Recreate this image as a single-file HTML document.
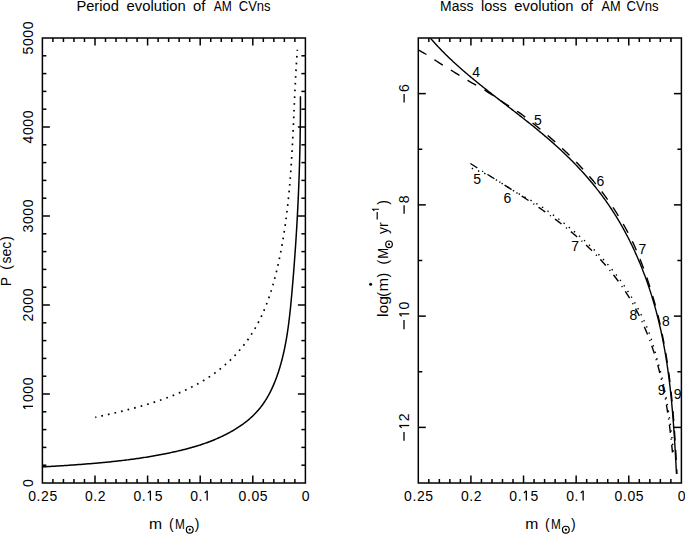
<!DOCTYPE html>
<html><head><meta charset="utf-8"><style>
html,body{margin:0;padding:0;background:#fff;}
svg{display:block;}
text{font-family:"Liberation Sans",sans-serif;fill:#000;}
</style></head><body>
<svg width="685" height="534" viewBox="0 0 685 534">
<rect width="685" height="534" fill="#fff"/>
<g stroke="#000" fill="none">
<rect x="42.4" y="38.0" width="263.00" height="445.00" fill="none" stroke="#000" stroke-width="1.5"/>
<line x1="294.88" y1="483.00" x2="294.88" y2="479.00" stroke-width="1.5"/>
<line x1="294.88" y1="38.00" x2="294.88" y2="42.00" stroke-width="1.5"/>
<line x1="284.36" y1="483.00" x2="284.36" y2="479.00" stroke-width="1.5"/>
<line x1="284.36" y1="38.00" x2="284.36" y2="42.00" stroke-width="1.5"/>
<line x1="273.84" y1="483.00" x2="273.84" y2="479.00" stroke-width="1.5"/>
<line x1="273.84" y1="38.00" x2="273.84" y2="42.00" stroke-width="1.5"/>
<line x1="263.32" y1="483.00" x2="263.32" y2="479.00" stroke-width="1.5"/>
<line x1="263.32" y1="38.00" x2="263.32" y2="42.00" stroke-width="1.5"/>
<line x1="252.80" y1="483.00" x2="252.80" y2="475.50" stroke-width="1.5"/>
<line x1="252.80" y1="38.00" x2="252.80" y2="45.50" stroke-width="1.5"/>
<line x1="242.28" y1="483.00" x2="242.28" y2="479.00" stroke-width="1.5"/>
<line x1="242.28" y1="38.00" x2="242.28" y2="42.00" stroke-width="1.5"/>
<line x1="231.76" y1="483.00" x2="231.76" y2="479.00" stroke-width="1.5"/>
<line x1="231.76" y1="38.00" x2="231.76" y2="42.00" stroke-width="1.5"/>
<line x1="221.24" y1="483.00" x2="221.24" y2="479.00" stroke-width="1.5"/>
<line x1="221.24" y1="38.00" x2="221.24" y2="42.00" stroke-width="1.5"/>
<line x1="210.72" y1="483.00" x2="210.72" y2="479.00" stroke-width="1.5"/>
<line x1="210.72" y1="38.00" x2="210.72" y2="42.00" stroke-width="1.5"/>
<line x1="200.20" y1="483.00" x2="200.20" y2="475.50" stroke-width="1.5"/>
<line x1="200.20" y1="38.00" x2="200.20" y2="45.50" stroke-width="1.5"/>
<line x1="189.68" y1="483.00" x2="189.68" y2="479.00" stroke-width="1.5"/>
<line x1="189.68" y1="38.00" x2="189.68" y2="42.00" stroke-width="1.5"/>
<line x1="179.16" y1="483.00" x2="179.16" y2="479.00" stroke-width="1.5"/>
<line x1="179.16" y1="38.00" x2="179.16" y2="42.00" stroke-width="1.5"/>
<line x1="168.64" y1="483.00" x2="168.64" y2="479.00" stroke-width="1.5"/>
<line x1="168.64" y1="38.00" x2="168.64" y2="42.00" stroke-width="1.5"/>
<line x1="158.12" y1="483.00" x2="158.12" y2="479.00" stroke-width="1.5"/>
<line x1="158.12" y1="38.00" x2="158.12" y2="42.00" stroke-width="1.5"/>
<line x1="147.60" y1="483.00" x2="147.60" y2="475.50" stroke-width="1.5"/>
<line x1="147.60" y1="38.00" x2="147.60" y2="45.50" stroke-width="1.5"/>
<line x1="137.08" y1="483.00" x2="137.08" y2="479.00" stroke-width="1.5"/>
<line x1="137.08" y1="38.00" x2="137.08" y2="42.00" stroke-width="1.5"/>
<line x1="126.56" y1="483.00" x2="126.56" y2="479.00" stroke-width="1.5"/>
<line x1="126.56" y1="38.00" x2="126.56" y2="42.00" stroke-width="1.5"/>
<line x1="116.04" y1="483.00" x2="116.04" y2="479.00" stroke-width="1.5"/>
<line x1="116.04" y1="38.00" x2="116.04" y2="42.00" stroke-width="1.5"/>
<line x1="105.52" y1="483.00" x2="105.52" y2="479.00" stroke-width="1.5"/>
<line x1="105.52" y1="38.00" x2="105.52" y2="42.00" stroke-width="1.5"/>
<line x1="95.00" y1="483.00" x2="95.00" y2="475.50" stroke-width="1.5"/>
<line x1="95.00" y1="38.00" x2="95.00" y2="45.50" stroke-width="1.5"/>
<line x1="84.48" y1="483.00" x2="84.48" y2="479.00" stroke-width="1.5"/>
<line x1="84.48" y1="38.00" x2="84.48" y2="42.00" stroke-width="1.5"/>
<line x1="73.96" y1="483.00" x2="73.96" y2="479.00" stroke-width="1.5"/>
<line x1="73.96" y1="38.00" x2="73.96" y2="42.00" stroke-width="1.5"/>
<line x1="63.44" y1="483.00" x2="63.44" y2="479.00" stroke-width="1.5"/>
<line x1="63.44" y1="38.00" x2="63.44" y2="42.00" stroke-width="1.5"/>
<line x1="52.92" y1="483.00" x2="52.92" y2="479.00" stroke-width="1.5"/>
<line x1="52.92" y1="38.00" x2="52.92" y2="42.00" stroke-width="1.5"/>
<rect x="418.3" y="38.0" width="263.10" height="445.00" fill="none" stroke="#000" stroke-width="1.5"/>
<line x1="670.88" y1="483.00" x2="670.88" y2="479.00" stroke-width="1.5"/>
<line x1="670.88" y1="38.00" x2="670.88" y2="42.00" stroke-width="1.5"/>
<line x1="660.35" y1="483.00" x2="660.35" y2="479.00" stroke-width="1.5"/>
<line x1="660.35" y1="38.00" x2="660.35" y2="42.00" stroke-width="1.5"/>
<line x1="649.83" y1="483.00" x2="649.83" y2="479.00" stroke-width="1.5"/>
<line x1="649.83" y1="38.00" x2="649.83" y2="42.00" stroke-width="1.5"/>
<line x1="639.30" y1="483.00" x2="639.30" y2="479.00" stroke-width="1.5"/>
<line x1="639.30" y1="38.00" x2="639.30" y2="42.00" stroke-width="1.5"/>
<line x1="628.78" y1="483.00" x2="628.78" y2="475.50" stroke-width="1.5"/>
<line x1="628.78" y1="38.00" x2="628.78" y2="45.50" stroke-width="1.5"/>
<line x1="618.26" y1="483.00" x2="618.26" y2="479.00" stroke-width="1.5"/>
<line x1="618.26" y1="38.00" x2="618.26" y2="42.00" stroke-width="1.5"/>
<line x1="607.73" y1="483.00" x2="607.73" y2="479.00" stroke-width="1.5"/>
<line x1="607.73" y1="38.00" x2="607.73" y2="42.00" stroke-width="1.5"/>
<line x1="597.21" y1="483.00" x2="597.21" y2="479.00" stroke-width="1.5"/>
<line x1="597.21" y1="38.00" x2="597.21" y2="42.00" stroke-width="1.5"/>
<line x1="586.68" y1="483.00" x2="586.68" y2="479.00" stroke-width="1.5"/>
<line x1="586.68" y1="38.00" x2="586.68" y2="42.00" stroke-width="1.5"/>
<line x1="576.16" y1="483.00" x2="576.16" y2="475.50" stroke-width="1.5"/>
<line x1="576.16" y1="38.00" x2="576.16" y2="45.50" stroke-width="1.5"/>
<line x1="565.64" y1="483.00" x2="565.64" y2="479.00" stroke-width="1.5"/>
<line x1="565.64" y1="38.00" x2="565.64" y2="42.00" stroke-width="1.5"/>
<line x1="555.11" y1="483.00" x2="555.11" y2="479.00" stroke-width="1.5"/>
<line x1="555.11" y1="38.00" x2="555.11" y2="42.00" stroke-width="1.5"/>
<line x1="544.59" y1="483.00" x2="544.59" y2="479.00" stroke-width="1.5"/>
<line x1="544.59" y1="38.00" x2="544.59" y2="42.00" stroke-width="1.5"/>
<line x1="534.06" y1="483.00" x2="534.06" y2="479.00" stroke-width="1.5"/>
<line x1="534.06" y1="38.00" x2="534.06" y2="42.00" stroke-width="1.5"/>
<line x1="523.54" y1="483.00" x2="523.54" y2="475.50" stroke-width="1.5"/>
<line x1="523.54" y1="38.00" x2="523.54" y2="45.50" stroke-width="1.5"/>
<line x1="513.02" y1="483.00" x2="513.02" y2="479.00" stroke-width="1.5"/>
<line x1="513.02" y1="38.00" x2="513.02" y2="42.00" stroke-width="1.5"/>
<line x1="502.49" y1="483.00" x2="502.49" y2="479.00" stroke-width="1.5"/>
<line x1="502.49" y1="38.00" x2="502.49" y2="42.00" stroke-width="1.5"/>
<line x1="491.97" y1="483.00" x2="491.97" y2="479.00" stroke-width="1.5"/>
<line x1="491.97" y1="38.00" x2="491.97" y2="42.00" stroke-width="1.5"/>
<line x1="481.44" y1="483.00" x2="481.44" y2="479.00" stroke-width="1.5"/>
<line x1="481.44" y1="38.00" x2="481.44" y2="42.00" stroke-width="1.5"/>
<line x1="470.92" y1="483.00" x2="470.92" y2="475.50" stroke-width="1.5"/>
<line x1="470.92" y1="38.00" x2="470.92" y2="45.50" stroke-width="1.5"/>
<line x1="460.40" y1="483.00" x2="460.40" y2="479.00" stroke-width="1.5"/>
<line x1="460.40" y1="38.00" x2="460.40" y2="42.00" stroke-width="1.5"/>
<line x1="449.87" y1="483.00" x2="449.87" y2="479.00" stroke-width="1.5"/>
<line x1="449.87" y1="38.00" x2="449.87" y2="42.00" stroke-width="1.5"/>
<line x1="439.35" y1="483.00" x2="439.35" y2="479.00" stroke-width="1.5"/>
<line x1="439.35" y1="38.00" x2="439.35" y2="42.00" stroke-width="1.5"/>
<line x1="428.82" y1="483.00" x2="428.82" y2="479.00" stroke-width="1.5"/>
<line x1="428.82" y1="38.00" x2="428.82" y2="42.00" stroke-width="1.5"/>
<line x1="42.40" y1="465.20" x2="46.40" y2="465.20" stroke-width="1.5"/>
<line x1="305.40" y1="465.20" x2="301.40" y2="465.20" stroke-width="1.5"/>
<line x1="42.40" y1="447.40" x2="46.40" y2="447.40" stroke-width="1.5"/>
<line x1="305.40" y1="447.40" x2="301.40" y2="447.40" stroke-width="1.5"/>
<line x1="42.40" y1="429.60" x2="46.40" y2="429.60" stroke-width="1.5"/>
<line x1="305.40" y1="429.60" x2="301.40" y2="429.60" stroke-width="1.5"/>
<line x1="42.40" y1="411.80" x2="46.40" y2="411.80" stroke-width="1.5"/>
<line x1="305.40" y1="411.80" x2="301.40" y2="411.80" stroke-width="1.5"/>
<line x1="42.40" y1="394.00" x2="49.90" y2="394.00" stroke-width="1.5"/>
<line x1="305.40" y1="394.00" x2="297.90" y2="394.00" stroke-width="1.5"/>
<line x1="42.40" y1="376.20" x2="46.40" y2="376.20" stroke-width="1.5"/>
<line x1="305.40" y1="376.20" x2="301.40" y2="376.20" stroke-width="1.5"/>
<line x1="42.40" y1="358.40" x2="46.40" y2="358.40" stroke-width="1.5"/>
<line x1="305.40" y1="358.40" x2="301.40" y2="358.40" stroke-width="1.5"/>
<line x1="42.40" y1="340.60" x2="46.40" y2="340.60" stroke-width="1.5"/>
<line x1="305.40" y1="340.60" x2="301.40" y2="340.60" stroke-width="1.5"/>
<line x1="42.40" y1="322.80" x2="46.40" y2="322.80" stroke-width="1.5"/>
<line x1="305.40" y1="322.80" x2="301.40" y2="322.80" stroke-width="1.5"/>
<line x1="42.40" y1="305.00" x2="49.90" y2="305.00" stroke-width="1.5"/>
<line x1="305.40" y1="305.00" x2="297.90" y2="305.00" stroke-width="1.5"/>
<line x1="42.40" y1="287.20" x2="46.40" y2="287.20" stroke-width="1.5"/>
<line x1="305.40" y1="287.20" x2="301.40" y2="287.20" stroke-width="1.5"/>
<line x1="42.40" y1="269.40" x2="46.40" y2="269.40" stroke-width="1.5"/>
<line x1="305.40" y1="269.40" x2="301.40" y2="269.40" stroke-width="1.5"/>
<line x1="42.40" y1="251.60" x2="46.40" y2="251.60" stroke-width="1.5"/>
<line x1="305.40" y1="251.60" x2="301.40" y2="251.60" stroke-width="1.5"/>
<line x1="42.40" y1="233.80" x2="46.40" y2="233.80" stroke-width="1.5"/>
<line x1="305.40" y1="233.80" x2="301.40" y2="233.80" stroke-width="1.5"/>
<line x1="42.40" y1="216.00" x2="49.90" y2="216.00" stroke-width="1.5"/>
<line x1="305.40" y1="216.00" x2="297.90" y2="216.00" stroke-width="1.5"/>
<line x1="42.40" y1="198.20" x2="46.40" y2="198.20" stroke-width="1.5"/>
<line x1="305.40" y1="198.20" x2="301.40" y2="198.20" stroke-width="1.5"/>
<line x1="42.40" y1="180.40" x2="46.40" y2="180.40" stroke-width="1.5"/>
<line x1="305.40" y1="180.40" x2="301.40" y2="180.40" stroke-width="1.5"/>
<line x1="42.40" y1="162.60" x2="46.40" y2="162.60" stroke-width="1.5"/>
<line x1="305.40" y1="162.60" x2="301.40" y2="162.60" stroke-width="1.5"/>
<line x1="42.40" y1="144.80" x2="46.40" y2="144.80" stroke-width="1.5"/>
<line x1="305.40" y1="144.80" x2="301.40" y2="144.80" stroke-width="1.5"/>
<line x1="42.40" y1="127.00" x2="49.90" y2="127.00" stroke-width="1.5"/>
<line x1="305.40" y1="127.00" x2="297.90" y2="127.00" stroke-width="1.5"/>
<line x1="42.40" y1="109.20" x2="46.40" y2="109.20" stroke-width="1.5"/>
<line x1="305.40" y1="109.20" x2="301.40" y2="109.20" stroke-width="1.5"/>
<line x1="42.40" y1="91.40" x2="46.40" y2="91.40" stroke-width="1.5"/>
<line x1="305.40" y1="91.40" x2="301.40" y2="91.40" stroke-width="1.5"/>
<line x1="42.40" y1="73.60" x2="46.40" y2="73.60" stroke-width="1.5"/>
<line x1="305.40" y1="73.60" x2="301.40" y2="73.60" stroke-width="1.5"/>
<line x1="42.40" y1="55.80" x2="46.40" y2="55.80" stroke-width="1.5"/>
<line x1="305.40" y1="55.80" x2="301.40" y2="55.80" stroke-width="1.5"/>
<line x1="418.30" y1="427.38" x2="425.80" y2="427.38" stroke-width="1.5"/>
<line x1="681.40" y1="427.38" x2="673.90" y2="427.38" stroke-width="1.5"/>
<line x1="418.30" y1="371.75" x2="422.30" y2="371.75" stroke-width="1.5"/>
<line x1="681.40" y1="371.75" x2="677.40" y2="371.75" stroke-width="1.5"/>
<line x1="418.30" y1="316.12" x2="425.80" y2="316.12" stroke-width="1.5"/>
<line x1="681.40" y1="316.12" x2="673.90" y2="316.12" stroke-width="1.5"/>
<line x1="418.30" y1="260.50" x2="422.30" y2="260.50" stroke-width="1.5"/>
<line x1="681.40" y1="260.50" x2="677.40" y2="260.50" stroke-width="1.5"/>
<line x1="418.30" y1="204.88" x2="425.80" y2="204.88" stroke-width="1.5"/>
<line x1="681.40" y1="204.88" x2="673.90" y2="204.88" stroke-width="1.5"/>
<line x1="418.30" y1="149.25" x2="422.30" y2="149.25" stroke-width="1.5"/>
<line x1="681.40" y1="149.25" x2="677.40" y2="149.25" stroke-width="1.5"/>
<line x1="418.30" y1="93.62" x2="425.80" y2="93.62" stroke-width="1.5"/>
<line x1="681.40" y1="93.62" x2="673.90" y2="93.62" stroke-width="1.5"/>
</g>
<path d="M42.32,466.95 L43.71,466.87 L45.09,466.78 L46.48,466.70 L47.86,466.61 L49.24,466.53 L50.63,466.44 L52.01,466.36 L53.39,466.27 L54.77,466.18 L56.15,466.09 L57.53,466.01 L58.91,465.92 L60.29,465.83 L61.67,465.74 L63.05,465.65 L64.42,465.56 L65.80,465.47 L67.18,465.38 L68.55,465.28 L69.93,465.19 L71.31,465.10 L72.68,465.00 L74.05,464.90 L75.43,464.81 L76.80,464.71 L78.17,464.61 L79.55,464.51 L80.92,464.40 L82.29,464.30 L83.66,464.20 L85.03,464.09 L86.40,463.98 L87.77,463.87 L89.14,463.76 L90.51,463.65 L91.88,463.54 L93.25,463.42 L94.62,463.30 L95.98,463.19 L97.35,463.06 L98.72,462.94 L100.08,462.82 L101.45,462.69 L102.82,462.56 L104.18,462.43 L105.55,462.30 L106.91,462.17 L108.28,462.03 L109.64,461.89 L111.00,461.75 L112.37,461.61 L113.73,461.46 L115.09,461.32 L116.46,461.17 L117.82,461.01 L119.18,460.86 L120.54,460.70 L121.90,460.54 L123.26,460.38 L124.63,460.21 L125.99,460.04 L127.35,459.87 L128.71,459.70 L130.07,459.52 L131.43,459.34 L132.78,459.16 L134.14,458.97 L135.50,458.78 L136.86,458.59 L138.22,458.39 L139.58,458.20 L140.94,457.99 L142.29,457.79 L143.65,457.58 L145.01,457.37 L146.37,457.15 L147.72,456.94 L149.08,456.71 L150.44,456.49 L151.79,456.26 L153.15,456.02 L154.51,455.79 L155.86,455.55 L157.22,455.30 L158.57,455.05 L159.93,454.80 L161.28,454.55 L162.64,454.29 L164.00,454.02 L165.35,453.75 L166.71,453.48 L168.06,453.21 L169.42,452.92 L170.77,452.64 L172.12,452.35 L173.48,452.06 L174.83,451.76 L176.18,451.45 L177.53,451.14 L178.88,450.83 L180.23,450.51 L181.58,450.18 L182.93,449.85 L184.27,449.51 L185.61,449.16 L186.96,448.81 L188.29,448.46 L189.63,448.09 L190.97,447.72 L192.30,447.34 L193.63,446.96 L194.96,446.56 L196.28,446.16 L197.61,445.76 L198.92,445.34 L200.24,444.92 L201.55,444.49 L202.86,444.05 L204.17,443.60 L205.47,443.14 L206.77,442.68 L208.07,442.20 L209.36,441.72 L210.65,441.23 L211.93,440.72 L213.21,440.21 L214.48,439.69 L215.75,439.16 L217.02,438.62 L218.28,438.06 L219.53,437.50 L220.79,436.93 L222.03,436.35 L223.27,435.75 L224.50,435.15 L225.73,434.53 L226.96,433.90 L228.17,433.26 L229.39,432.61 L230.59,431.95 L231.79,431.27 L232.98,430.59 L234.17,429.89 L235.35,429.17 L236.52,428.45 L237.68,427.71 L238.83,426.96 L239.97,426.20 L241.10,425.42 L242.22,424.63 L243.34,423.83 L244.43,423.01 L245.52,422.18 L246.60,421.33 L247.66,420.47 L248.71,419.60 L249.74,418.71 L250.76,417.81 L251.77,416.89 L252.76,415.95 L253.73,415.01 L254.69,414.04 L255.63,413.06 L256.56,412.07 L257.46,411.06 L258.36,410.04 L259.23,409.00 L260.09,407.95 L260.93,406.88 L261.75,405.80 L262.56,404.71 L263.34,403.60 L264.11,402.48 L264.87,401.34 L265.60,400.20 L266.32,399.04 L267.03,397.87 L267.72,396.69 L268.39,395.50 L269.05,394.30 L269.69,393.09 L270.32,391.87 L270.93,390.64 L271.53,389.41 L272.11,388.16 L272.69,386.91 L273.24,385.65 L273.79,384.38 L274.32,383.10 L274.84,381.82 L275.35,380.54 L275.85,379.24 L276.33,377.95 L276.80,376.65 L277.27,375.34 L277.72,374.03 L278.16,372.72 L278.59,371.40 L279.01,370.08 L279.42,368.76 L279.82,367.43 L280.21,366.11 L280.59,364.78 L280.97,363.45 L281.33,362.12 L281.69,360.79 L282.03,359.45 L282.37,358.12 L282.70,356.78 L283.02,355.44 L283.34,354.10 L283.65,352.76 L283.95,351.41 L284.24,350.07 L284.52,348.72 L284.80,347.37 L285.07,346.02 L285.33,344.67 L285.59,343.32 L285.84,341.97 L286.09,340.61 L286.33,339.26 L286.56,337.90 L286.78,336.54 L287.00,335.18 L287.22,333.82 L287.43,332.46 L287.63,331.10 L287.83,329.73 L288.03,328.37 L288.22,327.01 L288.40,325.64 L288.59,324.27 L288.76,322.91 L288.93,321.54 L289.10,320.17 L289.27,318.80 L289.43,317.43 L289.59,316.06 L289.74,314.69 L289.89,313.32 L290.04,311.95 L290.19,310.58 L290.33,309.21 L290.47,307.83 L290.61,306.46 L290.74,305.09 L290.88,303.71 L291.01,302.34 L291.14,300.97 L291.27,299.59 L291.39,298.22 L291.52,296.85 L291.64,295.47 L291.77,294.10 L291.89,292.72 L292.01,291.35 L292.13,289.98 L292.25,288.60 L292.37,287.23 L292.49,285.86 L292.61,284.48 L292.72,283.11 L292.84,281.74 L292.96,280.37 L293.07,278.99 L293.18,277.62 L293.29,276.25 L293.41,274.87 L293.52,273.50 L293.63,272.13 L293.74,270.76 L293.84,269.38 L293.95,268.01 L294.06,266.64 L294.16,265.27 L294.27,263.89 L294.37,262.52 L294.47,261.15 L294.57,259.78 L294.67,258.40 L294.77,257.03 L294.87,255.66 L294.97,254.29 L295.07,252.92 L295.17,251.54 L295.26,250.17 L295.36,248.80 L295.45,247.43 L295.54,246.05 L295.63,244.68 L295.73,243.31 L295.82,241.94 L295.91,240.57 L295.99,239.19 L296.08,237.82 L296.17,236.45 L296.25,235.08 L296.34,233.71 L296.42,232.33 L296.51,230.96 L296.59,229.59 L296.67,228.22 L296.75,226.84 L296.83,225.47 L296.91,224.10 L296.99,222.73 L297.07,221.36 L297.14,219.98 L297.22,218.61 L297.29,217.24 L297.37,215.87 L297.44,214.49 L297.51,213.12 L297.58,211.75 L297.65,210.38 L297.72,209.00 L297.79,207.63 L297.86,206.26 L297.92,204.89 L297.99,203.51 L298.06,202.14 L298.12,200.77 L298.18,199.40 L298.24,198.02 L298.31,196.65 L298.37,195.28 L298.43,193.90 L298.49,192.53 L298.54,191.16 L298.60,189.78 L298.66,188.41 L298.71,187.04 L298.77,185.66 L298.82,184.29 L298.87,182.92 L298.93,181.54 L298.98,180.17 L299.03,178.80 L299.08,177.42 L299.12,176.05 L299.17,174.67 L299.22,173.30 L299.26,171.93 L299.31,170.55 L299.35,169.18 L299.40,167.80 L299.44,166.43 L299.48,165.05 L299.52,163.68 L299.56,162.30 L299.60,160.93 L299.64,159.55 L299.68,158.18 L299.71,156.80 L299.75,155.43 L299.78,154.05 L299.82,152.68 L299.85,151.30 L299.88,149.93 L299.91,148.55 L299.94,147.17 L299.97,145.80 L300.00,144.42 L300.03,143.04 L300.05,141.67 L300.08,140.29 L300.11,138.91 L300.13,137.54 L300.15,136.16 L300.18,134.78 L300.20,133.41 L300.22,132.03 L300.24,130.65 L300.26,129.27 L300.27,127.89 L300.29,126.52 L300.31,125.14 L300.32,123.76 L300.34,122.38 L300.35,121.00 L300.37,119.62 L300.38,118.25 L300.39,116.87 L300.40,115.49 L300.41,114.11 L300.42,112.73 L300.42,111.35 L300.43,109.97 L300.44,108.59 L300.44,107.21 L300.45,105.83 L300.45,104.45 L300.45,103.07 L300.45,101.69 L300.46,100.30 L300.46,98.92 L300.45,97.54 L300.45,96.16" fill="none" stroke="#000" stroke-width="1.5"/>
<path d="M95.29,417.38 L96.40,417.12 L97.51,416.87 L98.62,416.62 L99.74,416.36 L100.86,416.11 L101.98,415.85 L103.10,415.60 L104.23,415.34 L105.35,415.08 L106.48,414.83 L107.61,414.57 L108.74,414.31 L109.87,414.04 L111.00,413.78 L112.14,413.52 L113.27,413.25 L114.41,412.98 L115.55,412.71 L116.69,412.44 L117.83,412.17 L118.97,411.90 L120.12,411.62 L121.26,411.34 L122.41,411.06 L123.55,410.78 L124.70,410.49 L125.84,410.21 L126.99,409.92 L128.14,409.63 L129.29,409.33 L130.44,409.04 L131.58,408.74 L132.73,408.44 L133.88,408.13 L135.03,407.83 L136.18,407.52 L137.33,407.20 L138.48,406.89 L139.63,406.57 L140.78,406.24 L141.93,405.92 L143.08,405.59 L144.23,405.26 L145.37,404.92 L146.52,404.58 L147.67,404.24 L148.82,403.89 L149.96,403.54 L151.11,403.19 L152.25,402.83 L153.39,402.47 L154.54,402.10 L155.68,401.73 L156.82,401.35 L157.96,400.97 L159.09,400.59 L160.23,400.20 L161.37,399.81 L162.50,399.41 L163.63,399.01 L164.76,398.60 L165.89,398.19 L167.02,397.78 L168.15,397.35 L169.27,396.93 L170.39,396.50 L171.51,396.06 L172.63,395.62 L173.74,395.17 L174.86,394.72 L175.97,394.27 L177.08,393.81 L178.18,393.34 L179.28,392.87 L180.38,392.39 L181.48,391.91 L182.57,391.42 L183.67,390.92 L184.75,390.42 L185.84,389.92 L186.92,389.41 L188.00,388.89 L189.07,388.37 L190.14,387.84 L191.21,387.30 L192.27,386.76 L193.33,386.22 L194.39,385.66 L195.44,385.10 L196.49,384.54 L197.53,383.97 L198.57,383.39 L199.60,382.81 L200.63,382.22 L201.66,381.62 L202.68,381.02 L203.70,380.41 L204.71,379.79 L205.71,379.17 L206.72,378.54 L207.71,377.90 L208.70,377.26 L209.69,376.61 L210.67,375.95 L211.64,375.29 L212.61,374.62 L213.58,373.94 L214.54,373.26 L215.49,372.57 L216.44,371.87 L217.38,371.16 L218.31,370.45 L219.24,369.73 L220.16,369.00 L221.08,368.26 L221.99,367.52 L222.89,366.77 L223.79,366.01 L224.68,365.25 L225.56,364.47 L226.44,363.70 L227.31,362.91 L228.17,362.12 L229.03,361.31 L229.88,360.51 L230.72,359.69 L231.56,358.87 L232.39,358.04 L233.21,357.21 L234.03,356.37 L234.84,355.52 L235.64,354.66 L236.44,353.80 L237.23,352.94 L238.01,352.06 L238.78,351.18 L239.55,350.30 L240.31,349.40 L241.06,348.51 L241.80,347.60 L242.54,346.69 L243.27,345.77 L244.00,344.85 L244.71,343.92 L245.42,342.99 L246.12,342.05 L246.81,341.10 L247.50,340.15 L248.18,339.19 L248.85,338.23 L249.51,337.26 L250.17,336.29 L250.81,335.31 L251.45,334.32 L252.08,333.34 L252.71,332.34 L253.32,331.34 L253.93,330.34 L254.53,329.33 L255.12,328.31 L255.71,327.29 L256.28,326.27 L256.85,325.24 L257.41,324.20 L257.96,323.16 L258.51,322.12 L259.05,321.07 L259.58,320.02 L260.10,318.97 L260.61,317.91 L261.12,316.84 L261.62,315.77 L262.12,314.70 L262.61,313.62 L263.09,312.54 L263.56,311.46 L264.03,310.37 L264.49,309.28 L264.94,308.18 L265.39,307.09 L265.83,305.98 L266.26,304.88 L266.69,303.77 L267.11,302.66 L267.53,301.55 L267.93,300.43 L268.34,299.31 L268.74,298.18 L269.13,297.06 L269.51,295.93 L269.90,294.80 L270.27,293.66 L270.64,292.53 L271.00,291.39 L271.36,290.25 L271.72,289.11 L272.07,287.96 L272.41,286.81 L272.75,285.66 L273.08,284.51 L273.41,283.36 L273.73,282.20 L274.05,281.05 L274.37,279.89 L274.68,278.73 L274.99,277.57 L275.29,276.41 L275.58,275.24 L275.88,274.08 L276.17,272.91 L276.45,271.75 L276.73,270.58 L277.01,269.41 L277.28,268.24 L277.55,267.07 L277.82,265.90 L278.08,264.72 L278.34,263.55 L278.60,262.38 L278.85,261.21 L279.10,260.03 L279.34,258.86 L279.59,257.68 L279.83,256.51 L280.06,255.34 L280.30,254.16 L280.53,252.99 L280.76,251.81 L280.98,250.64 L281.20,249.46 L281.42,248.29 L281.64,247.11 L281.85,245.94 L282.06,244.76 L282.27,243.59 L282.48,242.41 L282.68,241.24 L282.88,240.06 L283.08,238.89 L283.27,237.71 L283.47,236.53 L283.66,235.36 L283.84,234.18 L284.03,233.01 L284.21,231.83 L284.39,230.65 L284.57,229.48 L284.74,228.30 L284.91,227.12 L285.08,225.95 L285.25,224.77 L285.42,223.59 L285.58,222.42 L285.74,221.24 L285.90,220.06 L286.05,218.88 L286.21,217.71 L286.36,216.53 L286.51,215.35 L286.66,214.17 L286.80,213.00 L286.95,211.82 L287.09,210.64 L287.23,209.46 L287.36,208.28 L287.50,207.11 L287.63,205.93 L287.76,204.75 L287.89,203.57 L288.02,202.39 L288.14,201.21 L288.27,200.03 L288.39,198.86 L288.51,197.68 L288.63,196.50 L288.74,195.32 L288.86,194.14 L288.97,192.96 L289.08,191.78 L289.19,190.60 L289.30,189.42 L289.41,188.24 L289.51,187.06 L289.61,185.88 L289.72,184.70 L289.82,183.52 L289.91,182.34 L290.01,181.16 L290.11,179.98 L290.20,178.80 L290.29,177.62 L290.39,176.44 L290.48,175.26 L290.56,174.08 L290.65,172.90 L290.74,171.72 L290.82,170.54 L290.91,169.36 L290.99,168.17 L291.07,166.99 L291.15,165.81 L291.23,164.63 L291.31,163.45 L291.39,162.27 L291.46,161.09 L291.54,159.91 L291.61,158.72 L291.68,157.54 L291.75,156.36 L291.83,155.18 L291.90,154.00 L291.96,152.81 L292.03,151.63 L292.10,150.45 L292.17,149.27 L292.23,148.08 L292.30,146.90 L292.36,145.72 L292.43,144.54 L292.49,143.35 L292.55,142.17 L292.61,140.99 L292.67,139.81 L292.73,138.62 L292.79,137.44 L292.85,136.26 L292.91,135.07 L292.97,133.89 L293.03,132.71 L293.09,131.52 L293.14,130.34 L293.20,129.16 L293.25,127.97 L293.31,126.79 L293.37,125.60 L293.42,124.42 L293.48,123.24 L293.53,122.05 L293.58,120.87 L293.64,119.68 L293.69,118.50 L293.75,117.32 L293.80,116.13 L293.85,114.95 L293.91,113.76 L293.96,112.58 L294.01,111.39 L294.07,110.21 L294.12,109.02 L294.17,107.84 L294.23,106.65 L294.28,105.47 L294.33,104.28 L294.39,103.10 L294.44,101.91 L294.50,100.73 L294.55,99.54 L294.60,98.36 L294.66,97.17 L294.71,95.99 L294.77,94.80 L294.83,93.62 L294.88,92.43 L294.94,91.24 L294.99,90.06 L295.05,88.87 L295.11,87.69 L295.17,86.50 L295.23,85.31 L295.28,84.13 L295.34,82.94 L295.40,81.76 L295.47,80.57 L295.53,79.38 L295.59,78.20 L295.65,77.01 L295.71,75.82 L295.78,74.64 L295.84,73.45 L295.91,72.26 L295.98,71.08 L296.04,69.89 L296.11,68.70 L296.18,67.52 L296.25,66.33 L296.32,65.14 L296.39,63.96 L296.46,62.77 L296.54,61.58 L296.61,60.39 L296.69,59.21 L296.76,58.02 L296.84,56.83 L296.92,55.65 L297.00,54.46 L297.08,53.27 L297.16,52.08 L297.25,50.90 L297.33,49.71" fill="none" stroke="#000" stroke-width="1.7" stroke-dasharray="1.7 5.05" stroke-dashoffset="0.6"/>
<path d="M430.54,38.34 L431.41,39.34 L432.28,40.33 L433.15,41.32 L434.03,42.30 L434.92,43.28 L435.81,44.25 L436.70,45.22 L437.60,46.18 L438.50,47.14 L439.41,48.09 L440.32,49.04 L441.23,49.99 L442.15,50.93 L443.07,51.86 L444.00,52.80 L444.93,53.72 L445.86,54.65 L446.80,55.57 L447.74,56.48 L448.69,57.40 L449.63,58.30 L450.59,59.21 L451.54,60.11 L452.50,61.01 L453.46,61.90 L454.43,62.79 L455.39,63.68 L456.37,64.56 L457.34,65.44 L458.32,66.32 L459.30,67.19 L460.28,68.07 L461.27,68.93 L462.26,69.80 L463.25,70.66 L464.24,71.52 L465.24,72.38 L466.24,73.23 L467.24,74.09 L468.24,74.93 L469.25,75.78 L470.26,76.63 L471.27,77.47 L472.28,78.31 L473.29,79.15 L474.31,79.99 L475.33,80.82 L476.35,81.65 L477.37,82.48 L478.40,83.31 L479.42,84.14 L480.45,84.97 L481.48,85.79 L482.51,86.61 L483.54,87.44 L484.58,88.26 L485.61,89.08 L486.65,89.89 L487.68,90.71 L488.72,91.53 L489.76,92.34 L490.80,93.16 L491.84,93.97 L492.88,94.78 L493.93,95.59 L494.97,96.40 L496.02,97.21 L497.06,98.03 L498.11,98.83 L499.15,99.64 L500.20,100.45 L501.25,101.26 L502.29,102.07 L503.34,102.88 L504.39,103.69 L505.44,104.50 L506.48,105.31 L507.53,106.12 L508.58,106.93 L509.63,107.74 L510.68,108.54 L511.73,109.36 L512.77,110.17 L513.82,110.98 L514.87,111.79 L515.91,112.60 L516.96,113.41 L518.00,114.23 L519.05,115.04 L520.09,115.86 L521.14,116.67 L522.18,117.49 L523.22,118.31 L524.26,119.13 L525.30,119.95 L526.34,120.77 L527.38,121.59 L528.41,122.42 L529.45,123.25 L530.48,124.07 L531.51,124.90 L532.54,125.73 L533.57,126.56 L534.60,127.40 L535.63,128.23 L536.65,129.07 L537.68,129.91 L538.70,130.75 L539.72,131.59 L540.74,132.44 L541.75,133.28 L542.77,134.13 L543.78,134.99 L544.79,135.84 L545.79,136.70 L546.80,137.55 L547.80,138.41 L548.80,139.28 L549.80,140.14 L550.80,141.01 L551.79,141.88 L552.78,142.76 L553.77,143.64 L554.75,144.51 L555.73,145.40 L556.71,146.28 L557.69,147.17 L558.66,148.06 L559.64,148.96 L560.60,149.86 L561.57,150.76 L562.53,151.66 L563.49,152.57 L564.44,153.48 L565.40,154.39 L566.34,155.30 L567.29,156.22 L568.23,157.15 L569.17,158.07 L570.11,159.00 L571.04,159.93 L571.97,160.86 L572.89,161.80 L573.82,162.74 L574.74,163.69 L575.65,164.63 L576.56,165.58 L577.47,166.54 L578.37,167.49 L579.27,168.45 L580.17,169.42 L581.06,170.38 L581.95,171.35 L582.84,172.32 L583.72,173.30 L584.59,174.28 L585.47,175.26 L586.34,176.25 L587.20,177.24 L588.06,178.23 L588.92,179.22 L589.77,180.22 L590.62,181.23 L591.46,182.23 L592.30,183.24 L593.14,184.25 L593.97,185.27 L594.79,186.29 L595.62,187.31 L596.43,188.34 L597.25,189.37 L598.05,190.40 L598.86,191.44 L599.66,192.48 L600.45,193.52 L601.24,194.57 L602.03,195.62 L602.81,196.67 L603.58,197.73 L604.35,198.79 L605.12,199.85 L605.88,200.92 L606.63,201.99 L607.38,203.06 L608.13,204.14 L608.87,205.22 L609.61,206.31 L610.34,207.40 L611.06,208.49 L611.79,209.58 L612.50,210.68 L613.21,211.78 L613.92,212.89 L614.62,214.00 L615.32,215.11 L616.01,216.22 L616.70,217.34 L617.38,218.46 L618.06,219.58 L618.73,220.71 L619.40,221.84 L620.07,222.97 L620.73,224.11 L621.38,225.25 L622.03,226.39 L622.67,227.53 L623.31,228.68 L623.95,229.83 L624.58,230.98 L625.21,232.14 L625.83,233.30 L626.44,234.46 L627.06,235.62 L627.66,236.79 L628.27,237.96 L628.87,239.13 L629.46,240.31 L630.05,241.48 L630.63,242.66 L631.21,243.84 L631.79,245.03 L632.36,246.22 L632.92,247.41 L633.49,248.60 L634.04,249.79 L634.60,250.99 L635.14,252.19 L635.69,253.39 L636.23,254.59 L636.76,255.80 L637.29,257.00 L637.82,258.21 L638.34,259.43 L638.86,260.64 L639.37,261.86 L639.88,263.08 L640.38,264.30 L640.88,265.52 L641.37,266.74 L641.86,267.97 L642.35,269.20 L642.83,270.43 L643.31,271.66 L643.78,272.90 L644.25,274.13 L644.72,275.37 L645.18,276.61 L645.63,277.85 L646.08,279.09 L646.53,280.34 L646.97,281.59 L647.41,282.83 L647.84,284.08 L648.27,285.33 L648.70,286.59 L649.12,287.84 L649.54,289.10 L649.95,290.36 L650.36,291.61 L650.77,292.88 L651.17,294.14 L651.56,295.40 L651.96,296.66 L652.34,297.93 L652.73,299.20 L653.11,300.47 L653.48,301.74 L653.85,303.01 L654.22,304.28 L654.59,305.55 L654.94,306.83 L655.30,308.10 L655.65,309.38 L656.00,310.66 L656.34,311.94 L656.68,313.22 L657.01,314.50 L657.35,315.78 L657.67,317.06 L658.00,318.34 L658.31,319.63 L658.63,320.91 L658.94,322.20 L659.25,323.49 L659.55,324.77 L659.85,326.06 L660.14,327.35 L660.44,328.64 L660.72,329.93 L661.01,331.22 L661.29,332.51 L661.56,333.81 L661.84,335.10 L662.10,336.39 L662.37,337.69 L662.63,338.98 L662.89,340.28 L663.14,341.57 L663.39,342.87 L663.64,344.17 L663.88,345.47 L664.12,346.77 L664.36,348.06 L664.59,349.36 L664.82,350.66 L665.05,351.96 L665.27,353.27 L665.49,354.57 L665.71,355.87 L665.93,357.17 L666.14,358.48 L666.34,359.78 L666.55,361.08 L666.75,362.39 L666.95,363.69 L667.15,365.00 L667.34,366.30 L667.53,367.61 L667.72,368.92 L667.90,370.22 L668.08,371.53 L668.26,372.84 L668.44,374.15 L668.61,375.45 L668.78,376.76 L668.95,378.07 L669.11,379.38 L669.28,380.69 L669.44,382.00 L669.60,383.31 L669.75,384.62 L669.90,385.93 L670.06,387.24 L670.20,388.56 L670.35,389.87 L670.49,391.18 L670.64,392.49 L670.78,393.80 L670.91,395.12 L671.05,396.43 L671.18,397.74 L671.31,399.05 L671.44,400.37 L671.57,401.68 L671.69,402.99 L671.82,404.31 L671.94,405.62 L672.06,406.94 L672.18,408.25 L672.29,409.56 L672.41,410.88 L672.52,412.19 L672.63,413.51 L672.74,414.82 L672.84,416.14 L672.95,417.45 L673.05,418.76 L673.16,420.08 L673.26,421.39 L673.36,422.71 L673.46,424.02 L673.55,425.34 L673.65,426.65 L673.74,427.97 L673.84,429.28 L673.93,430.59 L674.02,431.91 L674.11,433.22 L674.20,434.54 L674.28,435.85 L674.37,437.16 L674.45,438.48 L674.54,439.79 L674.62,441.11 L674.70,442.42 L674.79,443.73 L674.87,445.04 L674.95,446.36 L675.02,447.67 L675.10,448.98 L675.18,450.30 L675.26,451.61 L675.33,452.92 L675.41,454.23 L675.48,455.54 L675.56,456.85 L675.63,458.16 L675.70,459.47 L675.77,460.78 L675.85,462.09 L675.92,463.40 L675.99,464.71 L676.06,466.02 L676.13,467.33 L676.20,468.64 L676.27,469.95 L676.34,471.26 L676.41,472.56 L676.48,473.87" fill="none" stroke="#000" stroke-width="1.4"/>
<path d="M418.30,50.00 L418.90,50.32 L419.66,50.73 L420.57,51.21 L421.59,51.76 L422.71,52.37 L423.90,53.03 L425.14,53.74 L426.40,54.50 L427.69,55.31 L429.03,56.18 L430.44,57.10 L431.91,58.08 L433.44,59.10 L435.05,60.17 L436.74,61.27 L438.50,62.40 L440.38,63.58 L442.37,64.83 L444.46,66.13 L446.62,67.46 L448.81,68.81 L451.00,70.16 L453.18,71.50 L455.30,72.80 L457.50,74.15 L459.85,75.58 L462.27,77.05 L464.65,78.50 L466.90,79.87 L468.92,81.09 L470.62,82.12 L471.90,82.90 L483.73,89.32 L484.82,90.07 L485.92,90.82 L487.01,91.56 L488.11,92.31 L489.20,93.05 L490.30,93.79 L491.40,94.54 L492.50,95.28 L493.60,96.02 L494.70,96.75 L495.80,97.49 L496.90,98.23 L498.00,98.97 L499.11,99.70 L500.21,100.44 L501.33,101.15 L502.45,101.87 L503.57,102.59 L504.68,103.31 L505.80,104.02 L506.92,104.74 L508.04,105.46 L509.16,106.18 L510.28,106.90 L511.40,107.62 L512.51,108.34 L513.63,109.05 L514.75,109.78 L515.87,110.50 L516.99,111.22 L518.10,111.94 L519.22,112.67 L520.34,113.39 L521.45,114.12 L522.49,114.94 L523.54,115.76 L524.58,116.58 L525.62,117.40 L526.66,118.22 L527.70,119.05 L528.74,119.87 L529.78,120.70 L530.82,121.53 L531.86,122.36 L532.89,123.19 L533.93,124.02 L534.96,124.85 L535.99,125.69 L537.02,126.53 L538.05,127.37 L539.07,128.21 L540.10,129.05 L541.12,129.90 L542.14,130.75 L543.16,131.60 L544.18,132.45 L545.20,133.30 L546.21,134.16 L547.22,135.02 L548.23,135.88 L549.24,136.75 L550.24,137.61 L551.24,138.48 L552.24,139.36 L553.24,140.23 L554.24,141.11 L555.23,141.99 L556.22,142.88 L557.21,143.76 L558.19,144.65 L559.17,145.55 L560.15,146.44 L561.13,147.34 L562.10,148.25 L563.07,149.15 L564.04,150.06 L565.00,150.97 L565.96,151.89 L566.92,152.80 L567.87,153.72 L568.83,154.65 L569.77,155.58 L570.72,156.51 L571.66,157.44 L572.60,158.38 L573.53,159.32 L574.46,160.26 L575.39,161.21 L576.31,162.15 L577.24,163.11 L578.15,164.06 L579.07,165.02 L579.97,165.99 L580.88,166.95 L581.78,167.92 L582.68,168.89 L583.58,169.87 L584.47,170.85 L585.35,171.83 L586.24,172.81 L587.11,173.80 L587.99,174.80 L588.86,175.79 L589.73,176.79 L590.59,177.79 L591.45,178.80 L592.30,179.81 L593.15,180.82 L594.00,181.84 L594.84,182.86 L595.67,183.88 L596.51,184.91 L597.33,185.94 L598.16,186.97 L598.98,188.01 L599.79,189.05 L600.60,190.09 L601.40,191.14 L602.20,192.19 L603.00,193.24 L603.79,194.30 L604.58,195.36 L605.36,196.43 L606.13,197.50 L606.91,198.57 L607.67,199.65 L608.43,200.73 L609.19,201.81 L609.94,202.90 L610.69,203.99 L611.43,205.08 L612.17,206.18 L612.90,207.28 L613.63,208.38 L614.35,209.49 L615.06,210.60 L615.78,211.71 L616.48,212.82 L617.19,213.94 L617.88,215.07 L618.58,216.19 L619.26,217.32 L619.95,218.45 L620.62,219.59 L621.30,220.73 L621.97,221.87 L622.63,223.01 L623.29,224.16 L623.94,225.31 L624.59,226.46 L625.24,227.61 L625.88,228.77 L626.51,229.93 L627.14,231.10 L627.77,232.26 L628.39,233.43 L629.01,234.60 L629.62,235.78 L630.22,236.96 L630.83,238.14 L631.42,239.32 L631.98,240.52 L632.54,241.72 L633.10,242.92 L633.65,244.13 L634.20,245.34 L634.74,246.55 L635.28,247.76 L635.81,248.97 L636.34,250.19 L636.86,251.41 L637.38,252.63 L637.89,253.85 L638.40,255.07 L638.90,256.30 L639.40,257.53 L639.90,258.76 L640.39,259.99 L640.87,261.23 L641.35,262.46 L641.83,263.70 L642.30,264.94 L642.77,266.18 L643.23,267.43 L643.69,268.67 L644.14,269.92 L644.59,271.17 L645.04,272.42 L645.48,273.67 L645.91,274.92 L646.35,276.18 L646.77,277.43 L647.20,278.69 L647.61,279.95 L648.03,281.21 L648.44,282.48 L648.84,283.74 L649.24,285.00 L649.64,286.27 L650.03,287.54 L650.42,288.81 L650.81,290.08 L651.21,291.34 L651.60,292.61 L651.99,293.88 L652.38,295.15 L652.76,296.42 L653.14,297.69 L653.52,298.96 L653.89,300.23 L654.26,301.51 L654.62,302.78 L654.98,304.06 L655.33,305.34 L655.68,306.62 L656.03,307.90 L656.37,309.18 L656.71,310.47 L657.04,311.75 L657.37,313.03 L657.70,314.32 L658.02,315.61 L658.34,316.89 L658.65,318.18 L658.96,319.47 L659.26,320.76 L659.57,322.05 L659.86,323.34 L660.16,324.63 L660.45,325.92 L660.73,327.22 L661.01,328.51 L661.29,329.81 L661.56,331.10 L661.83,332.40 L662.10,333.69 L662.36,334.99 L662.62,336.29 L662.88,337.58 L663.13,338.88 L663.38,340.18 L663.63,341.48 L663.88,342.78 L664.13,344.08 L664.37,345.38 L664.62,346.68 L664.85,347.98 L665.09,349.28 L665.32,350.58 L665.54,351.88 L665.77,353.18 L665.99,354.48 L666.20,355.79 L666.42,357.09 L666.63,358.40 L666.84,359.70 L667.04,361.01 L667.25,362.31 L667.44,363.62 L667.64,364.92 L667.83,366.23 L668.02,367.54 L668.21,368.85 L668.39,370.15 L668.58,371.46 L668.76,372.77 L668.93,374.08 L669.11,375.39 L669.28,376.70 L669.44,378.01 L669.61,379.32 L669.77,380.63 L669.93,381.94 L670.09,383.25 L670.25,384.56 L670.40,385.88 L670.55,387.19 L670.70,388.50 L670.85,389.81 L670.99,391.13 L671.13,392.44 L671.27,393.75 L671.41,395.06 L671.55,396.38 L671.68,397.69 L671.81,399.01 L671.94,400.32 L672.07,401.63 L672.19,402.95 L672.31,404.26 L672.44,405.58 L672.56,406.89 L672.67,408.21 L672.79,409.52 L672.90,410.84 L673.02,412.15 L673.13,413.46 L673.24,414.78 L673.34,416.09 L673.45,417.41 L673.55,418.73 L673.66,420.04 L673.76,421.36 L673.86,422.67 L673.96,423.99 L674.05,425.30 L674.15,426.62 L674.24,427.93 L674.34,429.24 L674.43,430.56 L674.52,431.87 L674.61,433.19 L674.70,434.50 L674.78,435.82 L674.87,437.13 L674.95,438.45 L675.04,439.76 L675.12,441.07 L675.20,442.39 L675.28,443.70 L675.36,445.01 L675.44,446.33 L675.52,447.64 L675.60,448.95 L675.68,450.27 L675.75,451.58 L675.83,452.89 L675.91,454.20 L675.98,455.51 L676.05,456.82 L676.13,458.14 L676.20,459.45 L676.27,460.76 L676.35,462.07 L676.42,463.38 L676.49,464.69 L676.56,466.00 L676.63,467.30 L676.70,468.61 L676.77,469.92 L676.84,471.23 L676.91,472.54 L676.98,473.84" fill="none" stroke="#000" stroke-width="1.4" stroke-dasharray="10 9.5" stroke-dashoffset="0.7"/>
<path d="M470.41,163.47 L471.19,163.98 L471.96,164.49 L472.75,165.00 L473.53,165.50 L474.31,166.01 L475.09,166.51 L475.87,167.02 L476.65,167.52 L477.44,168.02 L478.22,168.53 L479.00,169.03 L479.79,169.53 L480.57,170.03 L481.36,170.53 L482.14,171.03 L482.93,171.53 L483.72,172.03 L484.50,172.52 L485.29,173.02 L486.08,173.52 L486.86,174.02 L487.65,174.51 L488.44,175.01 L489.23,175.51 L490.02,176.00 L490.81,176.50 L491.59,176.99 L492.38,177.49 L493.17,177.98 L493.96,178.48 L494.75,178.98 L495.54,179.47 L496.33,179.97 L497.12,180.46 L497.91,180.96 L498.70,181.45 L499.49,181.95 L500.28,182.44 L501.07,182.94 L501.86,183.43 L502.65,183.93 L503.44,184.42 L504.22,184.92 L505.01,185.41 L505.80,185.91 L506.59,186.41 L507.38,186.90 L508.17,187.40 L508.96,187.90 L509.75,188.40 L510.54,188.90 L511.32,189.40 L512.11,189.89 L512.90,190.39 L513.69,190.89 L514.47,191.40 L515.26,191.90 L516.05,192.40 L516.83,192.90 L517.62,193.41 L518.40,193.91 L519.19,194.41 L519.97,194.92 L520.76,195.43 L521.54,195.93 L522.32,196.44 L523.10,196.95 L523.89,197.46 L524.67,197.97 L525.45,198.48 L526.23,198.99 L527.01,199.50 L527.79,200.02 L528.57,200.53 L529.35,201.05 L530.13,201.56 L530.90,202.08 L531.68,202.60 L532.45,203.12 L533.23,203.64 L534.00,204.17 L534.78,204.69 L535.55,205.21 L536.32,205.74 L537.10,206.27 L537.87,206.80 L538.64,207.33 L539.41,207.86 L540.17,208.39 L540.94,208.92 L541.71,209.46 L542.47,209.99 L543.24,210.53 L544.00,211.07 L544.77,211.61 L545.53,212.16 L546.29,212.70 L547.05,213.24 L547.81,213.79 L548.57,214.34 L549.33,214.89 L550.08,215.44 L550.84,215.99 L551.59,216.55 L552.34,217.10 L553.10,217.66 L553.85,218.22 L554.60,218.78 L555.34,219.34 L556.09,219.90 L556.84,220.47 L557.58,221.03 L558.33,221.60 L559.07,222.17 L559.81,222.74 L560.55,223.31 L561.29,223.89 L562.02,224.46 L562.76,225.04 L563.49,225.62 L564.22,226.20 L564.96,226.78 L565.69,227.37 L566.41,227.95 L567.14,228.54 L567.87,229.13 L568.59,229.72 L569.31,230.31 L570.03,230.91 L570.75,231.51 L571.47,232.10 L572.19,232.70 L572.90,233.31 L573.61,233.91 L574.32,234.51 L575.03,235.12 L575.74,235.73 L576.45,236.34 L577.15,236.95 L577.85,237.57 L578.55,238.19 L579.25,238.80 L579.95,239.43 L580.64,240.05 L581.34,240.67 L582.03,241.30 L582.72,241.93 L583.41,242.56 L584.09,243.19 L584.78,243.82 L585.46,244.46 L586.14,245.10 L586.81,245.74 L587.49,246.38 L588.16,247.02 L588.84,247.67 L589.51,248.32 L590.17,248.97 L590.84,249.62 L591.50,250.27 L592.16,250.93 L592.82,251.59 L593.48,252.25 L594.13,252.91 L594.78,253.58 L595.43,254.24 L596.08,254.91 L596.73,255.58 L597.37,256.26 L598.01,256.93 L598.65,257.61 L599.29,258.29 L599.92,258.97 L600.55,259.66 L601.18,260.34 L601.81,261.03 L602.43,261.72 L603.05,262.42 L603.67,263.11 L604.29,263.81 L604.90,264.51 L605.52,265.21 L606.13,265.92 L606.73,266.63 L607.34,267.34 L607.94,268.05 L608.54,268.76 L609.13,269.48 L609.73,270.20 L610.32,270.92 L610.90,271.64 L611.49,272.37 L612.07,273.10 L612.65,273.83 L613.23,274.56 L613.80,275.29 L614.38,276.03 L614.94,276.77 L615.51,277.51 L616.07,278.25 L616.63,279.00 L617.19,279.75 L617.75,280.49 L618.30,281.25 L618.85,282.00 L619.39,282.76 L619.93,283.52 L620.47,284.28 L621.01,285.04 L621.55,285.80 L622.08,286.57 L622.60,287.34 L623.13,288.11 L623.65,288.88 L624.17,289.66 L624.69,290.43 L625.20,291.21 L625.71,291.99 L626.21,292.78 L626.72,293.56 L627.22,294.35 L627.72,295.14 L628.21,295.93 L628.70,296.72 L629.19,297.51 L629.67,298.31 L630.15,299.11 L630.63,299.91 L631.10,300.71 L631.57,301.52 L632.04,302.32 L632.51,303.13 L632.97,303.94 L633.42,304.75 L633.88,305.57 L634.33,306.38 L634.78,307.20 L635.22,308.02 L635.66,308.84 L636.10,309.66 L636.54,310.49 L636.97,311.31 L637.39,312.14 L637.82,312.97 L638.24,313.80 L638.66,314.63 L639.07,315.47 L639.49,316.30 L639.89,317.14 L640.30,317.98 L640.70,318.82 L641.10,319.66 L641.50,320.51 L641.89,321.35 L642.28,322.20 L642.67,323.05 L643.05,323.90 L643.43,324.75 L643.81,325.60 L644.18,326.46 L644.55,327.31 L644.92,328.17 L645.29,329.03 L645.65,329.89 L646.01,330.75 L646.36,331.61 L646.72,332.47 L647.07,333.34 L647.41,334.21 L647.76,335.07 L648.10,335.94 L648.44,336.81 L648.77,337.68 L649.11,338.56 L649.43,339.43 L649.76,340.30 L650.08,341.18 L650.41,342.06 L650.72,342.93 L651.04,343.81 L651.35,344.69 L651.66,345.57 L651.97,346.46 L652.27,347.34 L652.57,348.22 L652.87,349.11 L653.16,349.99 L653.46,350.88 L653.75,351.77 L654.03,352.66 L654.32,353.55 L654.60,354.44 L654.88,355.33 L655.15,356.22 L655.43,357.12 L655.70,358.01 L655.96,358.91 L656.23,359.80 L656.49,360.70 L656.75,361.60 L657.01,362.49 L657.26,363.39 L657.52,364.29 L657.77,365.19 L658.01,366.10 L658.26,367.00 L658.50,367.90 L658.74,368.80 L658.98,369.71 L659.21,370.61 L659.45,371.52 L659.68,372.42 L659.90,373.33 L660.13,374.24 L660.35,375.15 L660.57,376.06 L660.79,376.96 L661.01,377.87 L661.22,378.79 L661.43,379.70 L661.64,380.61 L661.85,381.52 L662.05,382.43 L662.26,383.35 L662.46,384.26 L662.66,385.17 L662.85,386.09 L663.05,387.00 L663.24,387.92 L663.43,388.84 L663.62,389.75 L663.80,390.67 L663.99,391.59 L664.17,392.51 L664.35,393.42 L664.53,394.34 L664.70,395.26 L664.88,396.18 L665.05,397.10 L665.22,398.02 L665.39,398.94 L665.55,399.86 L665.72,400.78 L665.88,401.71 L666.04,402.63 L666.20,403.55 L666.36,404.47 L666.51,405.40 L666.67,406.32 L666.82,407.24 L666.97,408.16 L667.12,409.09 L667.26,410.01 L667.41,410.94 L667.55,411.86 L667.69,412.78 L667.83,413.71 L667.97,414.63 L668.11,415.56 L668.24,416.48 L668.38,417.41 L668.51,418.33 L668.64,419.26 L668.77,420.18 L668.90,421.11 L669.02,422.03 L669.15,422.96 L669.27,423.89 L669.39,424.81 L669.51,425.74 L669.63,426.66 L669.75,427.59 L669.87,428.51 L669.98,429.44 L670.09,430.36 L670.21,431.29 L670.32,432.21 L670.43,433.14 L670.54,434.06 L670.64,434.99 L670.75,435.91 L670.85,436.84 L670.96,437.76 L671.06,438.69 L671.16,439.61 L671.26,440.54 L671.36,441.46 L671.46,442.38 L671.56,443.31 L671.65,444.23 L671.75,445.15 L671.84,446.08 L671.93,447.00 L672.03,447.92 L672.12,448.84 L672.21,449.76 L672.30,450.69 L672.38,451.61 L672.47,452.53" fill="none" stroke="#000" stroke-width="1.4" stroke-dasharray="8.2 5.8 1.2 5.05"/>
<path d="M471.77,168.22 L472.65,168.58 L473.52,168.94 L474.40,169.30 L475.28,169.65 L476.16,170.01 L477.04,170.37 L477.92,170.72 L478.80,171.08 L479.68,171.43 L480.56,171.78 L481.44,172.13 L482.32,172.48 L483.20,172.84 L484.09,173.19 L484.97,173.53 L485.85,173.88 L486.73,174.23 L487.61,174.58 L488.44,175.01 L489.23,175.51 L490.02,176.00 L490.81,176.50 L491.59,176.99 L492.38,177.49 L493.17,177.98 L493.96,178.48 L494.75,178.98 L495.54,179.47 L496.33,179.97 L497.12,180.46 L497.91,180.96 L498.70,181.45 L499.49,181.95 L500.28,182.44 L501.07,182.94 L501.86,183.43 L502.65,183.93 L503.44,184.42 L504.22,184.92 L505.01,185.41 L505.80,185.91 L506.59,186.41 L507.38,186.90 L508.17,187.40 L508.96,187.90 L509.75,188.40 L510.54,188.90 L511.32,189.40 L512.11,189.89 L512.90,190.39 L513.69,190.89 L514.47,191.40 L515.27,191.88 L516.09,192.32 L516.92,192.77 L517.74,193.21 L518.56,193.66 L519.39,194.10 L520.21,194.55 L521.03,195.00 L521.85,195.45 L522.67,195.90 L523.49,196.35 L524.31,196.80 L525.13,197.26 L525.95,197.71 L526.77,198.16 L527.59,198.62 L528.41,199.08 L529.23,199.54 L530.05,200.00 L530.86,200.46 L531.68,200.92 L532.50,201.38 L533.31,201.85 L534.13,202.31 L534.94,202.78 L535.75,203.25 L536.57,203.72 L537.38,204.19 L538.19,204.66 L539.01,205.14 L539.82,205.61 L540.63,206.09 L541.43,206.58 L542.20,207.12 L542.97,207.66 L543.74,208.19 L544.51,208.73 L545.27,209.28 L546.04,209.82 L546.81,210.36 L547.57,210.91 L548.33,211.46 L549.10,212.01 L549.86,212.56 L550.62,213.11 L551.38,213.66 L552.14,214.22 L552.90,214.77 L553.65,215.33 L554.41,215.89 L555.16,216.45 L555.91,217.01 L556.67,217.58 L557.42,218.15 L558.17,218.71 L558.92,219.28 L559.66,219.85 L560.41,220.42 L561.15,221.00 L561.90,221.57 L562.64,222.15 L563.38,222.73 L564.12,223.31 L564.86,223.89 L565.59,224.48 L566.33,225.06 L567.06,225.65 L567.80,226.24 L568.53,226.83 L569.26,227.42 L569.98,228.02 L570.71,228.62 L571.44,229.21 L572.16,229.81 L572.88,230.42 L573.60,231.02 L574.32,231.63 L575.04,232.23 L575.75,232.84 L576.47,233.45 L577.18,234.07 L577.89,234.68 L578.60,235.30 L579.30,235.92 L580.01,236.54 L580.71,237.16 L581.41,237.78 L582.11,238.41 L582.81,239.04 L583.51,239.67 L584.20,240.30 L584.89,240.94 L585.58,241.57 L586.27,242.21 L586.96,242.85 L587.64,243.49 L588.33,244.14 L589.01,244.78 L589.69,245.43 L590.36,246.08 L591.04,246.74 L591.71,247.39 L592.38,248.05 L593.05,248.71 L593.71,249.37 L594.38,250.03 L595.04,250.70 L595.70,251.37 L596.36,252.04 L597.01,252.71 L597.67,253.38 L598.32,254.06 L598.97,254.74 L599.61,255.42 L600.25,256.10 L600.90,256.79 L601.54,257.48 L602.17,258.17 L602.81,258.86 L603.44,259.56 L604.07,260.25 L604.69,260.95 L605.32,261.65 L605.94,262.36 L606.56,263.06 L607.18,263.77 L607.79,264.48 L608.40,265.20 L609.01,265.91 L609.62,266.63 L610.22,267.35 L610.83,268.07 L611.42,268.80 L612.02,269.53 L612.61,270.26 L613.20,270.99 L613.79,271.72 L614.38,272.46 L614.96,273.20 L615.54,273.94 L616.12,274.68 L616.69,275.43 L617.26,276.18 L617.83,276.93 L618.39,277.68 L618.96,278.43 L619.52,279.19 L620.07,279.95 L620.63,280.71 L621.18,281.47 L621.73,282.24 L622.27,283.01 L622.81,283.77 L623.35,284.55 L623.89,285.32 L624.42,286.10 L624.95,286.87 L625.48,287.65 L626.00,288.44 L626.52,289.22 L627.04,290.01 L627.55,290.79 L628.06,291.58 L628.57,292.38 L629.08,293.17 L629.58,293.97 L630.08,294.77 L630.57,295.57 L631.06,296.37 L631.55,297.17 L632.04,297.98 L632.52,298.79 L633.00,299.60 L633.47,300.41 L633.95,301.22 L634.42,302.04 L634.88,302.86 L635.34,303.68 L635.80,304.50 L636.26,305.32 L636.71,306.15 L637.16,306.97 L637.60,307.80 L638.04,308.63 L638.48,309.46 L638.92,310.30 L639.35,311.13 L639.78,311.97 L640.20,312.81 L640.63,313.65 L641.05,314.49 L641.46,315.34 L641.87,316.18 L642.28,317.03 L642.69,317.88 L643.09,318.73 L643.49,319.58 L643.89,320.43 L644.28,321.28 L644.67,322.14 L645.06,323.00 L645.44,323.86 L645.82,324.72 L646.20,325.58 L646.57,326.44 L646.94,327.30 L647.31,328.17 L647.68,329.04 L648.01,329.92 L648.34,330.80 L648.66,331.68 L648.98,332.57 L649.30,333.45 L649.62,334.34 L649.93,335.23 L650.24,336.12 L650.54,337.01 L650.84,337.90 L651.14,338.79 L651.44,339.68 L651.73,340.57 L652.02,341.47 L652.31,342.36 L652.59,343.26 L652.87,344.16 L653.15,345.05 L653.42,345.95 L653.69,346.85 L653.96,347.75 L654.23,348.65 L654.49,349.55 L654.75,350.46 L655.01,351.36 L655.26,352.26 L655.52,353.17 L655.76,354.07 L656.01,354.98 L656.25,355.89 L656.49,356.79 L656.73,357.70 L656.96,358.61 L657.20,359.52 L657.45,360.42 L657.71,361.32 L657.97,362.22 L658.23,363.12 L658.48,364.02 L658.73,364.93 L658.98,365.83 L659.22,366.74 L659.47,367.64 L659.71,368.55 L659.95,369.45 L660.18,370.36 L660.41,371.27 L660.65,372.18 L660.87,373.09 L661.10,374.00 L661.32,374.91 L661.54,375.82 L661.76,376.73 L661.98,377.64 L662.20,378.56 L662.41,379.47 L662.62,380.39 L662.82,381.30 L663.03,382.22 L663.23,383.13 L663.43,384.05 L663.63,384.96 L663.83,385.88 L664.03,386.80 L664.22,387.72 L664.41,388.63 L664.60,389.55 L664.78,390.47 L664.97,391.39 L665.15,392.31 L665.33,393.23 L665.51,394.15 L665.68,395.08 L665.86,396.00 L666.03,396.92 L666.20,397.84 L666.37,398.76 L666.54,399.69 L666.70,400.61 L666.86,401.53 L667.03,402.46 L667.18,403.38 L667.34,404.31 L667.50,405.23 L667.65,406.16 L667.80,407.08 L667.95,408.01 L668.10,408.93 L668.25,409.86 L668.40,410.78 L668.54,411.71 L668.68,412.63 L668.82,413.56 L668.96,414.49 L669.10,415.41 L669.23,416.34 L669.37,417.27 L669.50,418.19 L669.63,419.12 L669.76,420.05 L669.89,420.97 L670.01,421.90 L670.14,422.83 L670.26,423.75 L670.38,424.68 L670.50,425.61 L670.62,426.53 L670.74,427.46 L670.86,428.39 L670.97,429.32 L671.09,430.24 L671.20,431.17 L671.31,432.10 L671.42,433.02 L671.53,433.95 L671.64,434.87 L671.74,435.80 L671.85,436.73 L671.95,437.65 L672.06,438.58 L672.16,439.50 L672.26,440.43 L672.36,441.35 L672.45,442.28 L672.55,443.20 L672.65,444.13 L672.74,445.05 L672.84,445.98 L672.93,446.90 L673.02,447.82 L673.11,448.75 L673.20,449.67 L673.29,450.59 L673.38,451.51 L673.47,452.43" fill="none" stroke="#000" stroke-width="1.4" stroke-dasharray="1.4 5.3"/>
<text x="476.20" y="77.00" text-anchor="middle" font-size="14" letter-spacing="0" >4</text>
<text x="538.00" y="124.90" text-anchor="middle" font-size="14" letter-spacing="0" >5</text>
<text x="600.30" y="186.00" text-anchor="middle" font-size="14" letter-spacing="0" >6</text>
<text x="642.50" y="254.20" text-anchor="middle" font-size="14" letter-spacing="0" >7</text>
<text x="666.00" y="325.80" text-anchor="middle" font-size="14" letter-spacing="0" >8</text>
<text x="677.60" y="399.00" text-anchor="middle" font-size="14" letter-spacing="0" >9</text>
<text x="477.10" y="184.30" text-anchor="middle" font-size="14" letter-spacing="0" >5</text>
<text x="507.30" y="203.30" text-anchor="middle" font-size="14" letter-spacing="0" >6</text>
<text x="575.10" y="251.00" text-anchor="middle" font-size="14" letter-spacing="0" >7</text>
<text x="633.30" y="319.80" text-anchor="middle" font-size="14" letter-spacing="0" >8</text>
<text x="661.70" y="395.00" text-anchor="middle" font-size="14" letter-spacing="0" >9</text>
<text x="76.45" y="10.9" font-size="14" textLength="42.36" lengthAdjust="spacingAndGlyphs">Period</text>
<text x="126.57" y="10.9" font-size="14" textLength="59.22" lengthAdjust="spacingAndGlyphs">evolution</text>
<text x="192.96" y="10.9" font-size="14" textLength="12.41" lengthAdjust="spacingAndGlyphs">of</text>
<text x="213.70" y="10.9" font-size="14" textLength="18.03" lengthAdjust="spacingAndGlyphs">AM</text>
<text x="238.75" y="10.9" font-size="14" textLength="31.85" lengthAdjust="spacingAndGlyphs">CVns</text>
<text x="440.11" y="10.9" font-size="14" textLength="33.24" lengthAdjust="spacingAndGlyphs">Mass</text>
<text x="480.97" y="10.9" font-size="14" textLength="25.85" lengthAdjust="spacingAndGlyphs">loss</text>
<text x="514.37" y="10.9" font-size="14" textLength="59.22" lengthAdjust="spacingAndGlyphs">evolution</text>
<text x="580.67" y="10.9" font-size="14" textLength="12.20" lengthAdjust="spacingAndGlyphs">of</text>
<text x="601.40" y="10.9" font-size="14" textLength="19.20" lengthAdjust="spacingAndGlyphs">AM</text>
<text x="626.44" y="10.9" font-size="14" textLength="32.06" lengthAdjust="spacingAndGlyphs">CVns</text>
<g transform="translate(42.70,500.60) scale(1,1.05)"><text x="-14.52" y="0" font-size="14">0</text><text x="-6.14" y="0" font-size="14">.</text><text x="-1.65" y="0" font-size="14">2</text><text x="6.74" y="0" font-size="14">5</text></g>
<g transform="translate(95.30,500.60) scale(1,1.05)"><text x="-10.33" y="0" font-size="14">0</text><text x="-1.94" y="0" font-size="14">.</text><text x="2.54" y="0" font-size="14">2</text></g>
<g transform="translate(147.90,500.60) scale(1,1.05)"><text x="-14.52" y="0" font-size="14">0</text><text x="-6.14" y="0" font-size="14">.</text><text x="6.74" y="0" font-size="14">5</text></g><g transform="translate(147.90,500.60)"><path d="M2.49,0 V-9.87" fill="none" stroke="#000" stroke-width="1.3"/><path d="M2.29,-9.67 L0.09,-7.57" fill="none" stroke="#000" stroke-width="1.17"/></g>
<g transform="translate(200.50,500.60) scale(1,1.05)"><text x="-10.33" y="0" font-size="14">0</text><text x="-1.94" y="0" font-size="14">.</text></g><g transform="translate(200.50,500.60)"><path d="M6.68,0 V-9.87" fill="none" stroke="#000" stroke-width="1.3"/><path d="M6.48,-9.67 L4.28,-7.57" fill="none" stroke="#000" stroke-width="1.17"/></g>
<g transform="translate(253.10,500.60) scale(1,1.05)"><text x="-14.52" y="0" font-size="14">0</text><text x="-6.14" y="0" font-size="14">.</text><text x="-1.65" y="0" font-size="14">0</text><text x="6.74" y="0" font-size="14">5</text></g>
<g transform="translate(305.70,500.60) scale(1,1.05)"><text x="-3.89" y="0" font-size="14">0</text></g>
<g transform="translate(418.60,500.60) scale(1,1.05)"><text x="-14.52" y="0" font-size="14">0</text><text x="-6.14" y="0" font-size="14">.</text><text x="-1.65" y="0" font-size="14">2</text><text x="6.74" y="0" font-size="14">5</text></g>
<g transform="translate(471.22,500.60) scale(1,1.05)"><text x="-10.33" y="0" font-size="14">0</text><text x="-1.94" y="0" font-size="14">.</text><text x="2.54" y="0" font-size="14">2</text></g>
<g transform="translate(523.84,500.60) scale(1,1.05)"><text x="-14.52" y="0" font-size="14">0</text><text x="-6.14" y="0" font-size="14">.</text><text x="6.74" y="0" font-size="14">5</text></g><g transform="translate(523.84,500.60)"><path d="M2.49,0 V-9.87" fill="none" stroke="#000" stroke-width="1.3"/><path d="M2.29,-9.67 L0.09,-7.57" fill="none" stroke="#000" stroke-width="1.17"/></g>
<g transform="translate(576.46,500.60) scale(1,1.05)"><text x="-10.33" y="0" font-size="14">0</text><text x="-1.94" y="0" font-size="14">.</text></g><g transform="translate(576.46,500.60)"><path d="M6.68,0 V-9.87" fill="none" stroke="#000" stroke-width="1.3"/><path d="M6.48,-9.67 L4.28,-7.57" fill="none" stroke="#000" stroke-width="1.17"/></g>
<g transform="translate(629.08,500.60) scale(1,1.05)"><text x="-14.52" y="0" font-size="14">0</text><text x="-6.14" y="0" font-size="14">.</text><text x="-1.65" y="0" font-size="14">0</text><text x="6.74" y="0" font-size="14">5</text></g>
<g transform="translate(681.70,500.60) scale(1,1.05)"><text x="-3.89" y="0" font-size="14">0</text></g>
<g transform="translate(33.00,483.00) rotate(-90) scale(1,1.05)"><text x="-3.89" y="0" font-size="14">0</text></g>
<g transform="translate(33.00,394.00) rotate(-90) scale(1,1.05)"><text x="-8.09" y="0" font-size="14">0</text><text x="0.30" y="0" font-size="14">0</text><text x="8.69" y="0" font-size="14">0</text></g><g transform="translate(33.00,394.00) rotate(-90)"><path d="M-12.33,0 V-9.87" fill="none" stroke="#000" stroke-width="1.3"/><path d="M-12.53,-9.67 L-14.73,-7.57" fill="none" stroke="#000" stroke-width="1.17"/></g>
<g transform="translate(33.00,305.00) rotate(-90) scale(1,1.05)"><text x="-16.47" y="0" font-size="14">2</text><text x="-8.09" y="0" font-size="14">0</text><text x="0.30" y="0" font-size="14">0</text><text x="8.69" y="0" font-size="14">0</text></g>
<g transform="translate(33.00,216.00) rotate(-90) scale(1,1.05)"><text x="-16.47" y="0" font-size="14">3</text><text x="-8.09" y="0" font-size="14">0</text><text x="0.30" y="0" font-size="14">0</text><text x="8.69" y="0" font-size="14">0</text></g>
<g transform="translate(33.00,127.00) rotate(-90) scale(1,1.05)"><text x="-16.47" y="0" font-size="14">4</text><text x="-8.09" y="0" font-size="14">0</text><text x="0.30" y="0" font-size="14">0</text><text x="8.69" y="0" font-size="14">0</text></g>
<g transform="translate(33.00,38.00) rotate(-90) scale(1,1.05)"><text x="-16.47" y="0" font-size="14">5</text><text x="-8.09" y="0" font-size="14">0</text><text x="0.30" y="0" font-size="14">0</text><text x="8.69" y="0" font-size="14">0</text></g>
<line x1="404.10" y1="94.00" x2="404.10" y2="102.50" stroke="#000" stroke-width="1.3"/>
<g transform="translate(409.20,102.50) rotate(-90) scale(1,1.05)"><text x="10.40" y="0" font-size="14">6</text></g>
<line x1="404.10" y1="205.30" x2="404.10" y2="213.80" stroke="#000" stroke-width="1.3"/>
<g transform="translate(409.20,213.80) rotate(-90) scale(1,1.05)"><text x="10.50" y="0" font-size="14">8</text></g>
<line x1="404.00" y1="320.00" x2="404.00" y2="329.30" stroke="#000" stroke-width="1.3"/>
<g transform="translate(409.20,329.30) rotate(-90) scale(1,1.05)"><text x="19.70" y="0" font-size="14">0</text></g><g transform="translate(409.20,329.30) rotate(-90)"><path d="M15.45,0 V-9.87" fill="none" stroke="#000" stroke-width="1.3"/><path d="M15.25,-9.67 L13.05,-7.57" fill="none" stroke="#000" stroke-width="1.17"/></g>
<line x1="404.00" y1="432.00" x2="404.00" y2="440.80" stroke="#000" stroke-width="1.3"/>
<g transform="translate(409.20,440.80) rotate(-90) scale(1,1.05)"><text x="19.50" y="0" font-size="14">2</text></g><g transform="translate(409.20,440.80) rotate(-90)"><path d="M15.25,0 V-9.87" fill="none" stroke="#000" stroke-width="1.3"/><path d="M15.05,-9.67 L12.85,-7.57" fill="none" stroke="#000" stroke-width="1.17"/></g>
<text transform="translate(11.20,285.10) rotate(-90)" x="-1.10" y="0.00" font-size="14">P</text>
<text transform="translate(11.20,285.10) rotate(-90)" x="15.40" y="0.00" font-size="14">(</text>
<text transform="translate(11.20,285.10) rotate(-90)" x="21.60" y="0.00" font-size="14">sec</text>
<text transform="translate(11.20,285.10) rotate(-90)" x="44.30" y="0.00" font-size="14">)</text>
<text transform="translate(387.50,316.00) rotate(-90)" x="-1.01" y="0.00" font-size="14" textLength="21.00" lengthAdjust="spacingAndGlyphs">log</text>
<text transform="translate(387.50,316.00) rotate(-90)" x="19.30" y="0.00" font-size="14">(</text>
<text transform="translate(387.50,316.00) rotate(-90)" x="24.64" y="0.00" font-size="14" textLength="13.69" lengthAdjust="spacingAndGlyphs">m</text>
<text transform="translate(387.50,316.00) rotate(-90)" x="38.40" y="0.00" font-size="14">)</text>
<text transform="translate(387.50,316.00) rotate(-90)" x="51.60" y="0.00" font-size="14">(</text>
<text transform="translate(387.50,316.00) rotate(-90)" x="57.28" y="0.00" font-size="14" textLength="10.79" lengthAdjust="spacingAndGlyphs">M</text>
<text transform="translate(387.50,316.00) rotate(-90)" x="81.90" y="0.00" font-size="14">yr</text>
<text transform="translate(387.50,316.00) rotate(-90)" x="111.20" y="0.00" font-size="14">)</text>
<circle cx="389.05" cy="244.30" r="3.3" fill="none" stroke="#000" stroke-width="1.2"/><circle cx="389.05" cy="244.30" r="1.1" fill="#000"/>
<line x1="377.2" y1="219.40" x2="377.2" y2="212.00" stroke="#000" stroke-width="1.2"/>
<g transform="translate(379.0,316.0) rotate(-90)"><path d="M106.7,0 V-6.2 L105.2,-4.7" fill="none" stroke="#000" stroke-width="1.1"/></g>
<circle cx="370.6" cy="284.2" r="1.5" fill="#000"/>
<text x="525.19" y="528.80" font-size="14" textLength="13.09" lengthAdjust="spacingAndGlyphs">m</text>
<text x="545.10" y="528.80" font-size="14">(</text>
<text x="551.08" y="528.80" font-size="14" textLength="9.80" lengthAdjust="spacingAndGlyphs">M</text>
<text x="570.90" y="528.80" font-size="14">)</text>
<circle cx="565.85" cy="529.65" r="3.4" fill="none" stroke="#000" stroke-width="1.2"/><circle cx="565.85" cy="529.65" r="1.1" fill="#000"/>
<text x="149.09" y="528.80" font-size="14" textLength="13.09" lengthAdjust="spacingAndGlyphs">m</text>
<text x="169.00" y="528.80" font-size="14">(</text>
<text x="174.98" y="528.80" font-size="14" textLength="9.80" lengthAdjust="spacingAndGlyphs">M</text>
<text x="194.80" y="528.80" font-size="14">)</text>
<circle cx="189.75" cy="529.65" r="3.4" fill="none" stroke="#000" stroke-width="1.2"/><circle cx="189.75" cy="529.65" r="1.1" fill="#000"/>
</svg></body></html>
